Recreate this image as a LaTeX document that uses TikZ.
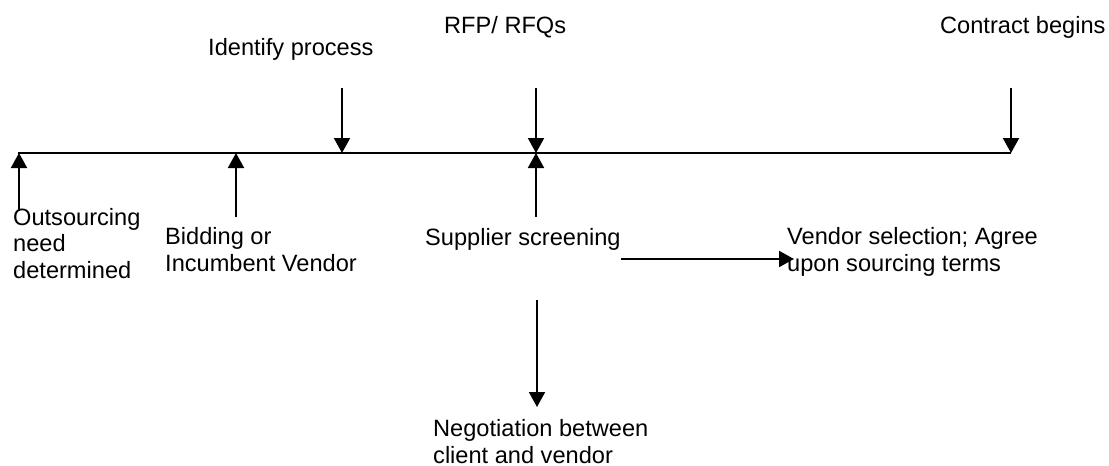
\documentclass[tikz,border=0pt]{standalone}
\usepackage{fontspec}
\setmainfont{Liberation Sans}
\usetikzlibrary{arrows.meta}
\begin{document}
\begin{tikzpicture}[x=1pt,y=-1pt,
  lbl/.style={anchor=base west,inner sep=0pt,align=left,font=\fontsize{23.6}{26.5}\selectfont},
  tl/.style={line width=2pt},
  arr/.style={line width=2pt,-{Triangle[length=15pt,width=16pt]}}]
\useasboundingbox[fill=white] (0,0) rectangle (1109,466);
% timeline points
\coordinate (t0) at (18,153);
\coordinate (t1) at (19,153);
\coordinate (t2) at (236,153);
\coordinate (t3) at (342,153);
\coordinate (t4) at (536,153);
\coordinate (t5) at (1011,153);
\draw[tl] (t0) -- (t5);
% arrow tails
\coordinate (s1) at (19,211);
\coordinate (s2) at (236,217);
\coordinate (s3) at (342,88);
\coordinate (s4a) at (536,88);
\coordinate (s4b) at (536,217);
\coordinate (s5) at (1011,88);
\coordinate (h1) at (621,259);
\coordinate (h2) at (794,259);
\coordinate (n1) at (537,300);
\coordinate (n2) at (537,407);
% labels (multi-line nodes: base = last line)
\node[lbl] (identify) at (208,55) {Identify process};
\node[lbl] (rfp) at (444,33) {RFP/ RFQs};
\node[lbl] (contract) at (940,33) {Contract begins};
\node[lbl] (outsourcing) at (13,278) {Outsourcing\\need\\determined};
\node[lbl] (bidding) at (165,271) {Bidding or\\Incumbent Vendor};
\node[lbl] (supplier) at (425,245) {Supplier screening};
\node[lbl] (vendor) at (787,271) {Vendor selection; Agree\\upon sourcing terms};
\node[lbl] (negotiation) at (433,463) {Negotiation between\\client and vendor};
% arrows
\draw[arr] (s1) -- (t1);
\draw[arr] (s2) -- (t2);
\draw[arr] (s3) -- (t3);
\draw[arr] (s4a) -- (t4);
\draw[arr] (s4b) -- (t4);
\draw[arr] (s5) -- (t5);
\draw[arr] (h1) -- (h2);
\draw[arr] (n1) -- (n2);
\end{tikzpicture}
\end{document}
